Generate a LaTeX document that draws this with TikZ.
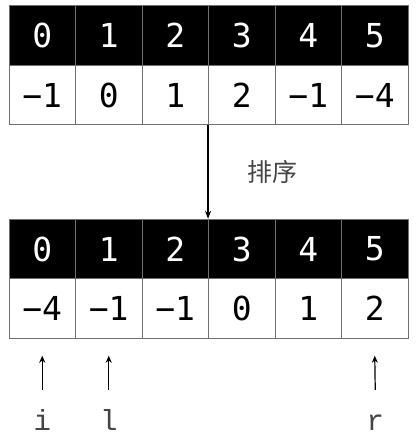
\documentclass[tikz,border=0pt]{standalone}
\usepackage{fontspec}
\newfontfamily\numfont{DejaVu Sans Mono}
\newfontfamily\ptrfont{Liberation Mono}
\newfontfamily\cjk{Noto Sans CJK SC}
\usetikzlibrary{arrows.meta}
\definecolor{gridc}{HTML}{707070}
\definecolor{labc}{HTML}{444444}
\begin{document}
\begin{tikzpicture}[x=1pt,y=-1pt,
  cell/.style={draw=gridc, line width=0.9pt, minimum width=66.5pt, minimum height=59.5pt, inner sep=0pt, font=\numfont\fontsize{33}{33}\selectfont},
  idx/.style={cell, fill=black, text=white},
  val/.style={cell, fill=white, text=black},
  ptr/.style={-{Stealth[length=7pt,width=6pt]}, line width=1.2pt},
  ptrlab/.style={text=labc, font=\ptrfont\fontsize{29}{29}\selectfont, inner sep=0pt, text height=20pt, text depth=0pt, anchor=base},
]
\useasboundingbox (0,0) rectangle (416,437);
% top table
\foreach \k/\v in {0/−1,1/0,2/1,3/2,4/−1,5/−4}{
  \node[idx] (t\k) at ({42.25+66.5*\k},35.5) {\k};
  \node[val] (tv\k) at ({42.25+66.5*\k},95) {\v};
}
% bottom table
\foreach \k/\v in {0/−4,1/−1,2/−1,3/0,4/1,5/2}{
  \node[idx] (b\k) at ({42.25+66.5*\k},249) {\k};
  \node[val] (bv\k) at ({42.25+66.5*\k},308.5) {\v};
}
\draw[-{Stealth[length=8pt,width=6pt]}, line width=1.2pt] (tv3.south west) -- (b3.north west);
\node[text=labc, font=\cjk\fontsize{25}{25}\selectfont] (sortlab) at (272,172) {排序};
% pointers
\node[ptrlab] (pi) at (42.25,430) {i};
\node[ptrlab] (pl) at (108.75,430) {l};
\node[ptrlab] (pr) at (375.25,430) {r};
\draw[ptr] ([yshift=20pt]pi.north) -- ([yshift=-17pt]bv0.south);
\draw[ptr] ([yshift=20pt]pl.north) -- ([yshift=-17pt]bv1.south);
\draw[ptr] ([yshift=20pt]pr.north) -- ([yshift=-17pt]bv5.south);
\end{tikzpicture}
\end{document}
